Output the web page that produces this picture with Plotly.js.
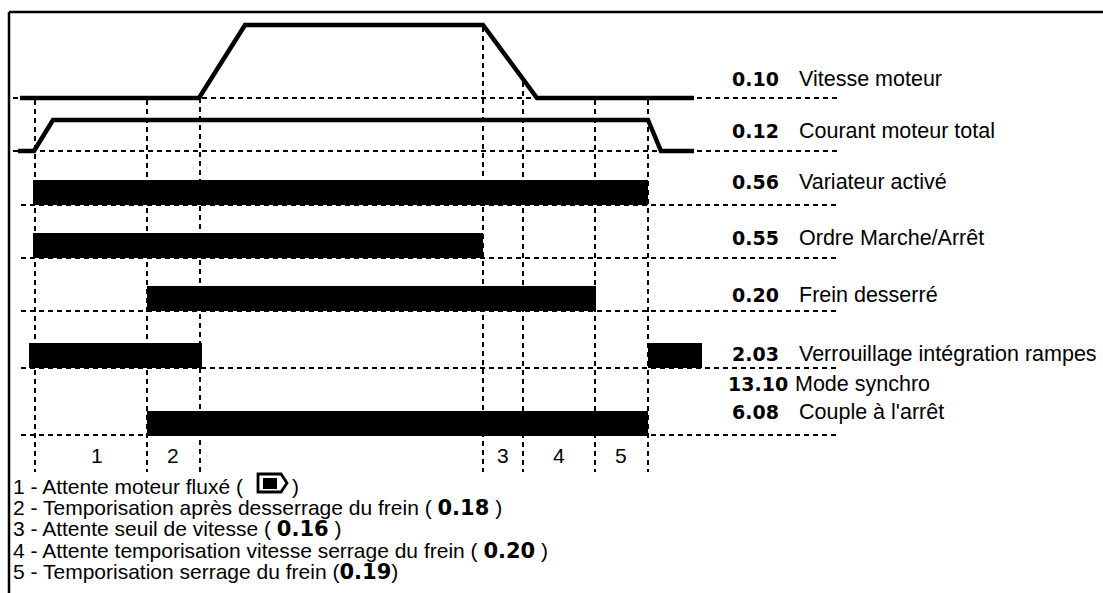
<!DOCTYPE html>
<html><head><meta charset="utf-8">
<script src="https://cdn.plot.ly/plotly-3.0.1.min.js"></script>
<style>html,body{margin:0;padding:0;background:#fff;overflow:hidden}#chart{width:1103px;height:593px}</style>
</head><body><div id="chart"></div>
<script>
// ---------------- data ----------------
const paramCodes  = ['0.10','0.12','0.56','0.55','0.20','2.03','13.10','6.08'];
const signalNames = ['Vitesse moteur','Courant moteur total','Variateur activé','Ordre Marche/Arrêt','Frein desserré','Verrouillage intégration rampes','Mode synchro',"Couple à l'arrêt"];
const eventTimes  = [35,147,200,483,523,595,648];
const speedTimes  = [20,199,245,483,537,694];
const speedLevels = [0,0,1,1,0,0];
const currentTimes  = [18,34,53,648,661,694];
const currentLevels = [0,0,1,1,0,0];
const variateurOn = [[33,648]];
const ordreOn     = [[33,483]];
const freinOn     = [[147,596]];
const verrouOn    = [[29,202],[648,702]];
const coupleOn    = [[147,648]];
const periodLabels = ['1','2','3','4','5'];
const periodTimes  = [97,173,503,559,621];
const legendTexts = ['1 - Attente moteur fluxé (','2 - Temporisation après desserrage du frein (','3 - Attente seuil de vitesse (','4 - Attente temporisation vitesse serrage du frein (','5 - Temporisation serrage du frein ('];
const legendCodes = ['','0.18','0.16','0.20','0.19'];

// ---------------- layout constants ----------------
const FONT = 'Liberation Sans, Arial, Helvetica, sans-serif';
const BOLD = 'DejaVu Sans, Liberation Sans, sans-serif';
const speedBase = 98, speedAmp = 73;
const currBase = 151, currAmp = 31;
const barRowsBottom = [205,258,311,368,436];
const barH = 25;
const baselineY = [98,151,205,258,311,368,435];
const baselineX0 = [13,13,21,21,21,21,21];
const vTops = [100,100,98,27,82,100,100];
const vBottom = 472;
const labelY = [79,131,182,238,295,354,384,412];
const legendY = [486,507.5,529,550.5,572];

const traces = [];
traces.push({type:'scatter',mode:'lines',x:speedTimes,y:speedLevels.map(v=>speedBase-v*speedAmp),
  line:{color:'#000',width:4.5},hoverinfo:'skip'});
traces.push({type:'scatter',mode:'lines',x:currentTimes,y:currentLevels.map(v=>currBase-v*currAmp),
  line:{color:'#000',width:4.5},hoverinfo:'skip'});

const barSets = [variateurOn,ordreOn,freinOn,verrouOn,coupleOn];
const bx=[],bb=[],by=[];
barSets.forEach((set,i)=>set.forEach(iv=>{bb.push(iv[0]);bx.push(iv[1]-iv[0]);by.push(barRowsBottom[i]-barH/2);}));
traces.push({type:'bar',orientation:'h',base:bb,x:bx,y:by,width:barH,marker:{color:'#000',line:{width:0}},hoverinfo:'skip'});

const shapes = [];
const dash = '5px,4px';
baselineY.forEach((y,i)=>shapes.push({type:'line',xref:'x',yref:'y',x0:baselineX0[i],x1:838,y0:y,y1:y,line:{color:'#000',width:2,dash:dash},layer:'below'}));
eventTimes.forEach((t,i)=>shapes.push({type:'line',xref:'x',yref:'y',x0:t,x1:t,y0:vTops[i],y1:vBottom,line:{color:'#000',width:2,dash:dash},layer:'below'}));
// frame
shapes.push({type:'line',xref:'x',yref:'y',x0:9,x1:1103,y0:12,y1:12,line:{color:'#000',width:2.5}});
shapes.push({type:'line',xref:'x',yref:'y',x0:9,x1:9,y0:12,y1:593,line:{color:'#000',width:2.5}});
// icon (moteur fluxé)
shapes.push({type:'path',xref:'x',yref:'y',path:'M258,474 L281,474 L287,483 L281,492 L258,492 Z',line:{color:'#000',width:2.8},fillcolor:'#fff'});
shapes.push({type:'rect',xref:'x',yref:'y',x0:263,x1:277,y0:478,y1:489,line:{width:0},fillcolor:'#000'});

const ann = [];
paramCodes.forEach((c,i)=>{
  ann.push({xref:'x',yref:'y',x:781+(c.length>4?9:0),y:labelY[i],xanchor:'right',yanchor:'middle',showarrow:false,
    text:'<b>'+c+'</b>',font:{family:BOLD,size:19,color:'#000'}});
  ann.push({xref:'x',yref:'y',x:(c.length>4?793:797),y:labelY[i],xanchor:'left',yanchor:'middle',showarrow:false,
    text:signalNames[i],font:{family:FONT,size:21.5,color:'#000'}});
});
periodLabels.forEach((p,i)=>ann.push({xref:'x',yref:'y',x:periodTimes[i],y:455,xanchor:'center',yanchor:'middle',showarrow:false,
  text:p,font:{family:FONT,size:21,color:'#000'}}));
legendTexts.forEach((t,i)=>{
  let txt = t;
  if(legendCodes[i]){
    const sp = (i===4)?'':' ';
    txt += sp+'<span style="font-family:DejaVu Sans"><b>'+legendCodes[i]+'</b></span>'+sp+')';
  }
  ann.push({xref:'x',yref:'y',x:11,y:legendY[i],xanchor:'left',yanchor:'middle',showarrow:false,text:txt,font:{family:FONT,size:21,color:'#000'}});
});
ann.push({xref:'x',yref:'y',x:290,y:legendY[0],xanchor:'left',yanchor:'middle',showarrow:false,text:')',font:{family:FONT,size:21,color:'#000'}});

const layout = {
  width:1103,height:593,margin:{l:0,r:0,t:0,b:0},paper_bgcolor:'#fff',plot_bgcolor:'#fff',
  showlegend:false,bargap:0,
  xaxis:{range:[0,1103],visible:false,fixedrange:true},
  yaxis:{range:[593,0],visible:false,fixedrange:true},
  shapes:shapes,annotations:ann
};
Plotly.newPlot('chart',traces,layout,{staticPlot:true,displayModeBar:false});
</script></body></html>
